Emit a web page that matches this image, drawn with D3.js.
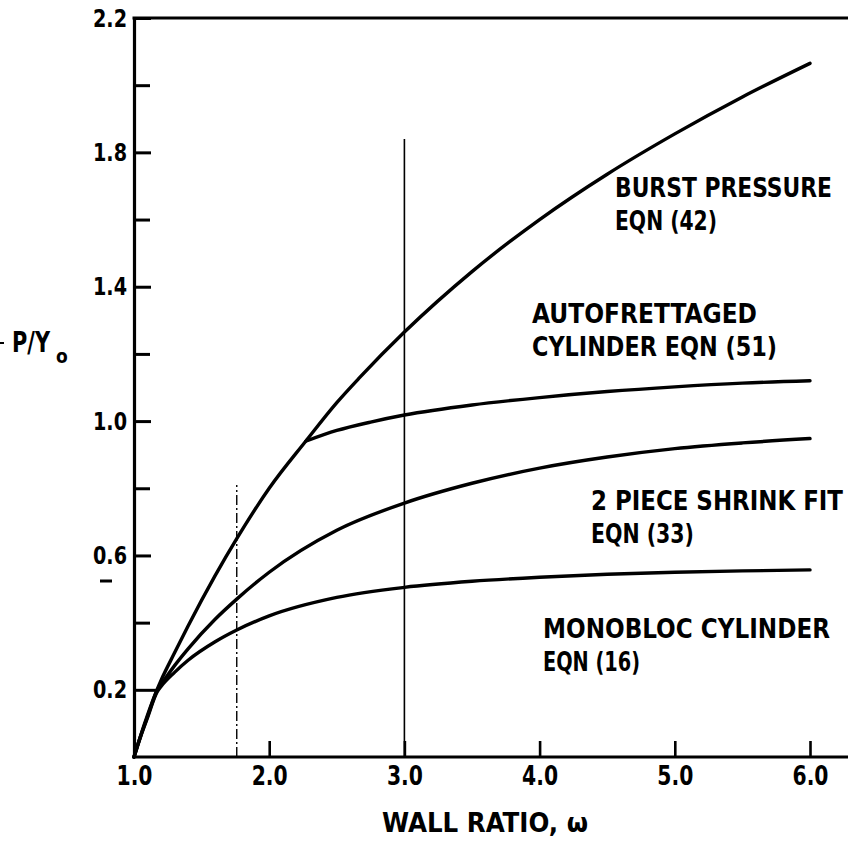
<!DOCTYPE html>
<html>
<head>
<meta charset="utf-8">
<script src="https://cdn.jsdelivr.net/npm/d3@7"></script>
<style>
  html, body { margin: 0; padding: 0; background: #fff; }
  svg { display: block; }
  text { font-family: "DejaVu Sans Condensed", "Liberation Sans Narrow", "DejaVu Sans", sans-serif; font-weight: bold; fill: #000; }
</style>
</head>
<body>
<svg id="chart" width="848" height="846"></svg>
<script>
// ---- Data ----
const burstOmega     = [1.0, 1.05, 1.1, 1.17, 1.2, 1.3, 1.4, 1.6, 1.76, 2.0, 2.27, 2.5, 2.67, 3.0, 3.5, 4.0, 4.5, 5.0, 5.5, 6.0];
const burstValues    = [0.0, 0.065, 0.125, 0.2, 0.228, 0.31, 0.39, 0.54, 0.65, 0.80, 0.94, 1.055, 1.13, 1.265, 1.445, 1.60, 1.735, 1.855, 1.965, 2.065];

const autofretOmega  = [2.27, 2.5, 2.75, 3.0, 3.5, 4.0, 4.5, 5.0, 5.5, 6.0];
const autofretValues = [0.94, 0.972, 0.997, 1.018, 1.048, 1.07, 1.088, 1.102, 1.113, 1.12];

const shrinkOmega    = [1.0, 1.05, 1.1, 1.17, 1.2, 1.3, 1.4, 1.6, 1.76, 2.0, 2.5, 3.0, 3.5, 4.0, 4.5, 5.0, 5.5, 6.0];
const shrinkValues   = [0.0, 0.063, 0.12, 0.197, 0.215, 0.272, 0.322, 0.41, 0.47, 0.55, 0.675, 0.756, 0.815, 0.86, 0.893, 0.918, 0.935, 0.948];

const monoOmega      = [1.0, 1.05, 1.1, 1.17, 1.2, 1.3, 1.4, 1.6, 1.76, 2.0, 2.5, 3.0, 3.5, 4.0, 4.5, 5.0, 5.5, 6.0];
const monoValues     = [0.0, 0.062, 0.117, 0.193, 0.21, 0.252, 0.288, 0.343, 0.378, 0.42, 0.475, 0.505, 0.523, 0.535, 0.544, 0.55, 0.554, 0.557];

const xTickValues    = [1.0, 2.0, 3.0, 4.0, 5.0, 6.0];
const yMajorTicks    = [0.2, 0.6, 1.0, 1.4, 1.8, 2.2];
const yMinorTicks    = [0.4, 0.8, 1.2, 1.6, 2.0];

// reference verticals: omega position and top value
const refOmega       = [3.0, 1.76];
const refTop         = [1.84, 0.81];

const seriesLabels = [
  ["BURST PRESSURE", "EQN (42)"],
  ["AUTOFRETTAGED", "CYLINDER EQN (51)"],
  ["2 PIECE SHRINK FIT", "EQN (33)"],
  ["MONOBLOC CYLINDER", "EQN (16)"]
];
const xAxisTitle = "WALL RATIO, \u03C9";

// ---- Layout ----
const svg = d3.select("#chart");
const x = d3.scaleLinear().domain([1, 6]).range([134, 810]);
const y = d3.scaleLinear().domain([0, 2.2]).range([757, 18]);

const line = d3.line()
  .x(d => x(d[0]))
  .y(d => y(d[1]))
  .curve(d3.curveMonotoneX);

const zip = (a, b) => a.map((v, i) => [v, b[i]]);

// Reference vertical lines
svg.append("line")
  .attr("x1", x(refOmega[0])).attr("x2", x(refOmega[0]))
  .attr("y1", y(0)).attr("y2", y(refTop[0]))
  .attr("stroke", "#000").attr("stroke-width", 1.6);
svg.append("line")
  .attr("x1", x(refOmega[1])).attr("x2", x(refOmega[1]))
  .attr("y1", y(0)).attr("y2", y(refTop[1]))
  .attr("stroke", "#000").attr("stroke-width", 1.4)
  .attr("stroke-dasharray", "10,3,2,3");

// Curves
const curves = [
  zip(burstOmega, burstValues),
  zip(autofretOmega, autofretValues),
  zip(shrinkOmega, shrinkValues),
  zip(monoOmega, monoValues)
];
svg.append("g").selectAll("path")
  .data(curves)
  .join("path")
  .attr("d", line)
  .attr("fill", "none")
  .attr("stroke", "#000")
  .attr("stroke-width", 3.4)
  .attr("stroke-linejoin", "round")
  .attr("stroke-linecap", "round");

// Y axis (major, labelled)
const yAxis = svg.append("g")
  .attr("transform", `translate(${x(1)},0)`)
  .call(d3.axisLeft(y).tickValues(yMajorTicks).tickSize(-17).tickSizeOuter(0)
        .tickPadding(7).tickFormat(d3.format(".1f")));
yAxis.select(".domain").attr("stroke-width", 3.2);
yAxis.selectAll(".tick line").attr("stroke-width", 3)
  .attr("x2", d => d === 0.2 ? 23 : 17);
yAxis.selectAll(".tick text")
  .attr("font-size", 25)
  .attr("textLength", 34).attr("lengthAdjust", "spacingAndGlyphs");

// Y axis minor ticks
const yMinor = svg.append("g")
  .attr("transform", `translate(${x(1)},0)`)
  .call(d3.axisLeft(y).tickValues(yMinorTicks).tickSize(-16).tickSizeOuter(0).tickFormat(""));
yMinor.select(".domain").remove();
yMinor.selectAll(".tick line").attr("stroke-width", 3);

// X axis
const xAxis = svg.append("g")
  .attr("transform", `translate(0,${y(0)})`)
  .call(d3.axisBottom(x).tickValues(xTickValues).tickSize(-16).tickSizeOuter(0)
        .tickPadding(10).tickFormat(d3.format(".1f")));
xAxis.select(".domain").remove();
xAxis.selectAll(".tick line").attr("stroke-width", 2.6);
xAxis.selectAll(".tick text")
  .attr("font-size", 26)
  .attr("textLength", 36).attr("lengthAdjust", "spacingAndGlyphs");

// x-axis baseline and top frame extending to the right edge
svg.append("line")
  .attr("x1", x(1) - 1.5).attr("x2", 848)
  .attr("y1", y(0)).attr("y2", y(0))
  .attr("stroke", "#000").attr("stroke-width", 3.2);
svg.append("line")
  .attr("x1", x(1) - 1.5).attr("x2", 848)
  .attr("y1", y(2.2)).attr("y2", y(2.2))
  .attr("stroke", "#000").attr("stroke-width", 3);

// Series labels
const labelPos = [
  { x: 615, y: 197, w: [217, 102] },
  { x: 532, y: 323, w: [225, 245] },
  { x: 591, y: 510, w: [252, 103] },
  { x: 543, y: 638, w: [287, 97] }
];
seriesLabels.forEach((lines, i) => {
  const p = labelPos[i];
  lines.forEach((t, j) => {
    svg.append("text")
      .attr("x", p.x).attr("y", p.y + j * 33)
      .attr("font-size", 26)
      .attr("textLength", p.w[j]).attr("lengthAdjust", "spacingAndGlyphs")
      .text(t);
  });
});

// Axis titles
svg.append("text")
  .attr("x", 382).attr("y", 832)
  .attr("font-size", 26)
  .attr("textLength", 206).attr("lengthAdjust", "spacingAndGlyphs")
  .text(xAxisTitle);

svg.append("text").attr("x", 12).attr("y", 352).attr("font-size", 29)
  .attr("textLength", 38).attr("lengthAdjust", "spacingAndGlyphs")
  .text("P/Y");
svg.append("text").attr("x", 56).attr("y", 363).attr("font-size", 19)
  .text("o");

// small scan marks seen on the original
svg.append("line").attr("x1", 100).attr("x2", 112).attr("y1", 581).attr("y2", 581)
  .attr("stroke", "#000").attr("stroke-width", 3);
svg.append("line").attr("x1", 0).attr("x2", 4).attr("y1", 343).attr("y2", 343)
  .attr("stroke", "#000").attr("stroke-width", 2);
</script>
</body>
</html>
